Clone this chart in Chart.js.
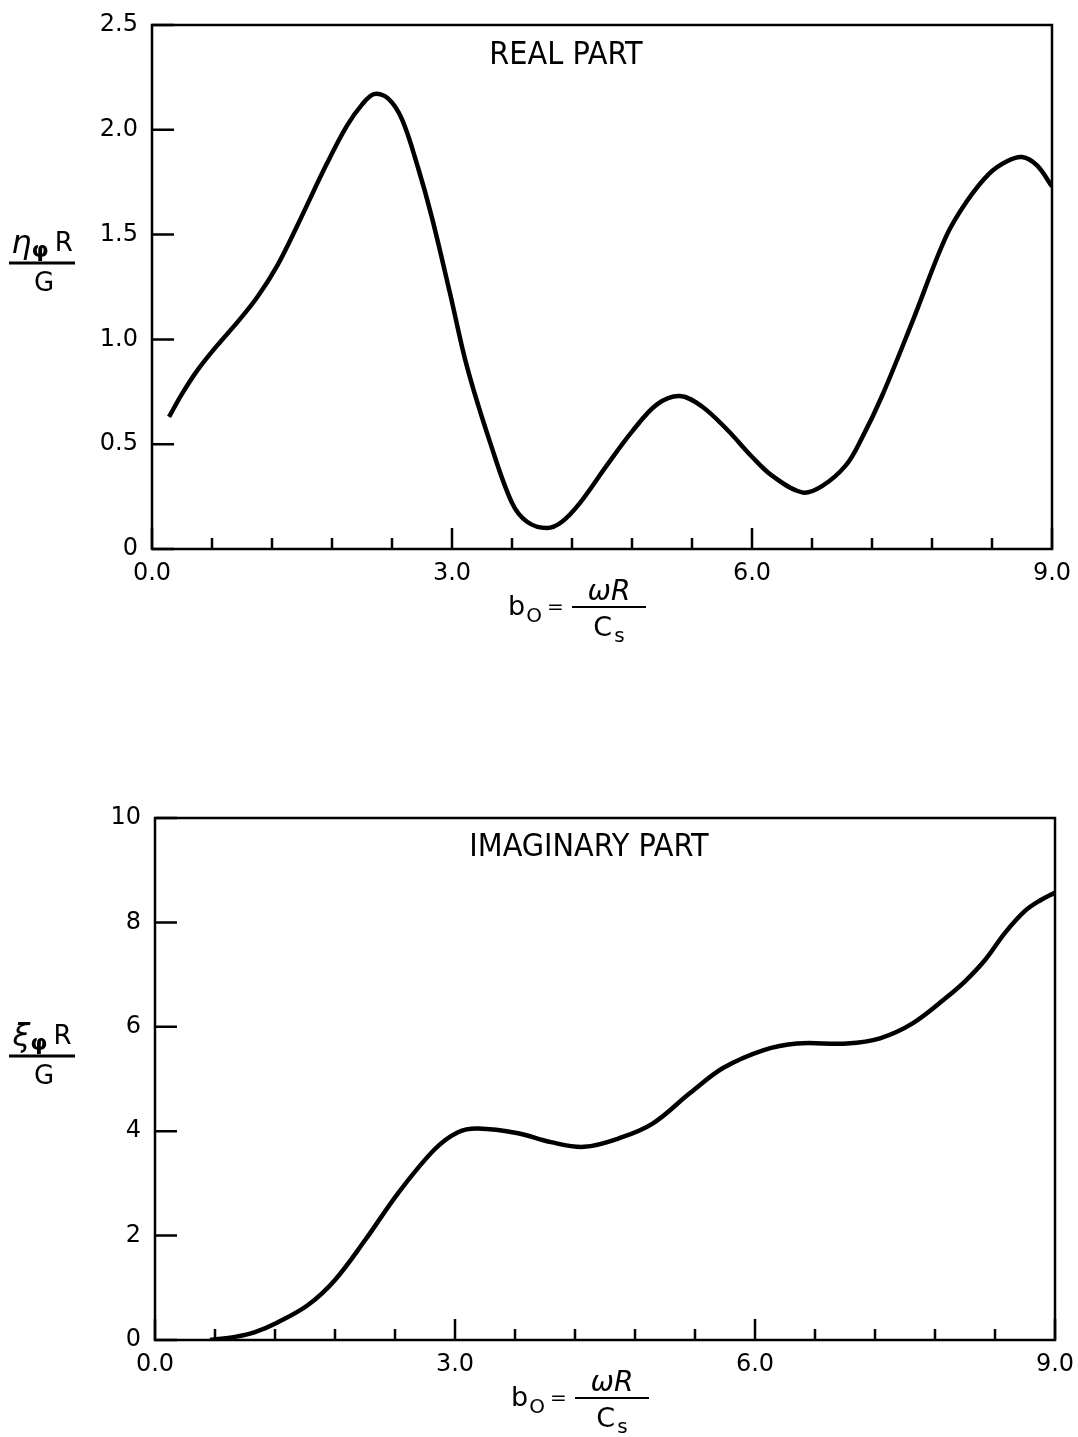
<!DOCTYPE html>
<html lang="en">
  <head>
    <meta charset="UTF-8" />
    <title>Real and Imaginary Part</title>
    <script src="https://cdn.jsdelivr.net/npm/chart.js"></script>
    <style>
      body {
        margin: 0;
        background: #fff;
      }
      .panel {
        position: absolute;
        left: 0;
        width: 1078px;
      }
      #topPanel {
        top: 0;
        height: 700px;
      }
      #botPanel {
        top: 700px;
        height: 737px;
      }
    </style>
  </head>
  <body>
    <div class="panel" id="topPanel"><canvas id="realChart"></canvas></div>
    <div class="panel" id="botPanel"><canvas id="imagChart"></canvas></div>

    <script>
      // values
      const realB = [0.17, 0.3, 0.45, 0.65, 0.85, 1.05, 1.25, 1.45, 1.75, 1.95, 2.1, 2.22, 2.36, 2.5, 2.66, 2.8, 2.98, 3.15, 3.38, 3.6, 3.75, 3.95, 4.1, 4.28, 4.55, 4.8, 5.05, 5.28, 5.5, 5.75, 6.0, 6.2, 6.5, 6.7, 6.94, 7.1, 7.3, 7.6, 7.94, 8.15, 8.37, 8.55, 8.7, 8.85, 9.0];
      const realVal = [0.63, 0.74, 0.85, 0.97, 1.08, 1.2, 1.35, 1.54, 1.84, 2.02, 2.12, 2.17, 2.15, 2.05, 1.82, 1.58, 1.22, 0.87, 0.51, 0.22, 0.13, 0.1, 0.13, 0.22, 0.4, 0.56, 0.69, 0.73, 0.68, 0.57, 0.44, 0.35, 0.27, 0.3, 0.4, 0.53, 0.73, 1.08, 1.49, 1.66, 1.79, 1.85, 1.87, 1.83, 1.73];

      const imagB = [0.55, 0.8, 1.0, 1.22, 1.53, 1.8, 2.1, 2.43, 2.79, 3.03, 3.23, 3.63, 3.96, 4.29, 4.65, 4.98, 5.35, 5.68, 6.08, 6.42, 6.92, 7.25, 7.58, 7.92, 8.1, 8.3, 8.5, 8.7, 8.85, 9.0];
      const imagVal = [0.0, 0.06, 0.15, 0.33, 0.67, 1.15, 1.91, 2.81, 3.64, 3.98, 4.05, 3.96, 3.79, 3.7, 3.87, 4.15, 4.73, 5.21, 5.55, 5.68, 5.68, 5.78, 6.07, 6.57, 6.87, 7.28, 7.8, 8.22, 8.42, 8.57];

      const xTicks = [0, 0.6, 1.2, 1.8, 2.4, 3.0, 3.6, 4.2, 4.8, 5.4, 6.0, 6.6, 7.2, 7.8, 8.4, 9.0];
      const xMajor = [0, 3, 6, 9];
      const realYTicks = [0, 0.5, 1.0, 1.5, 2.0, 2.5];
      const realYLabels = ['0', '0.5', '1.0', '1.5', '2.0', '2.5'];
      const imagYTicks = [0, 2, 4, 6, 8, 10];
      const imagYLabels = ['0', '2', '4', '6', '8', '10'];

      const tickFont = '"DejaVu Sans", sans-serif';
      const titleFont = '"Liberation Sans Narrow", "DejaVu Sans Condensed", "DejaVu Sans", sans-serif';

      function isMajor(v) {
        return xMajor.some((m) => Math.abs(m - v) < 1e-6);
      }

      // b0 = wR / Cs under the x axis
      function drawXTitle(ctx, cx, axisY) {
        ctx.fillStyle = '#000';
        ctx.textBaseline = 'alphabetic';
        ctx.textAlign = 'left';
        let x = cx - 104;
        ctx.font = '27px ' + tickFont;
        ctx.fillText('b', x, axisY + 66);
        x += ctx.measureText('b').width;
        ctx.font = '20px ' + tickFont;
        ctx.fillText('O', x + 1, axisY + 73);
        x += ctx.measureText('O').width + 6;
        ctx.font = '20px ' + tickFont;
        ctx.fillText('=', x, axisY + 64);
        // fraction
        const fx = cx - 40;
        const fw = 74;
        ctx.lineWidth = 2;
        ctx.beginPath();
        ctx.moveTo(fx, axisY + 58);
        ctx.lineTo(fx + fw, axisY + 58);
        ctx.stroke();
        ctx.font = 'italic 28px ' + tickFont;
        const num = 'ωR';
        ctx.fillText(num, fx + (fw - ctx.measureText(num).width) / 2, axisY + 51);
        ctx.font = '27px ' + tickFont;
        const cw = ctx.measureText('C').width;
        ctx.font = '20px ' + tickFont;
        const sw = ctx.measureText('s').width;
        const dx = fx + (fw - cw - sw - 2) / 2;
        ctx.font = '27px ' + tickFont;
        ctx.fillText('C', dx, axisY + 87);
        ctx.font = '20px ' + tickFont;
        ctx.fillText('s', dx + cw + 2, axisY + 93);
      }

      // y axis quantity written as a fraction to the left of the axis
      function drawYTitle(ctx, cx, barY, symbol) {
        ctx.fillStyle = '#000';
        ctx.textBaseline = 'alphabetic';
        ctx.textAlign = 'left';
        ctx.font = 'italic 32px ' + tickFont;
        const w1 = ctx.measureText(symbol).width;
        ctx.font = 'bold 22px ' + tickFont;
        const w2 = ctx.measureText('φ').width;
        ctx.font = '26px ' + tickFont;
        const w3 = ctx.measureText('R').width;
        const total = w1 + w2 + w3 + 6;
        let x = cx - total / 2;
        ctx.font = 'italic 32px ' + tickFont;
        ctx.fillText(symbol, x, barY - 10);
        x += w1;
        ctx.font = 'bold 22px ' + tickFont;
        ctx.fillText('φ', x, barY - 6);
        x += w2 + 6;
        ctx.font = '26px ' + tickFont;
        ctx.fillText('R', x, barY - 12);
        ctx.lineWidth = 3;
        ctx.beginPath();
        ctx.moveTo(cx - 33, barY);
        ctx.lineTo(cx + 33, barY);
        ctx.stroke();
        ctx.textAlign = 'center';
        ctx.fillText('G', cx + 2, barY + 28);
      }

      const framePlugin = {
        id: 'frame',
        afterDraw(chart, args, opts) {
          const ctx = chart.ctx;
          const area = chart.chartArea;
          const xs = chart.scales.x;
          const ys = chart.scales.y;
          ctx.save();
          ctx.strokeStyle = '#000';
          ctx.lineWidth = 2.5;
          ctx.strokeRect(area.left, area.top, area.right - area.left, area.bottom - area.top);
          // inward ticks
          ctx.beginPath();
          xs.ticks.forEach((t) => {
            const px = xs.getPixelForValue(t.value);
            const len = isMajor(t.value) ? 21 : 11;
            ctx.moveTo(px, area.bottom);
            ctx.lineTo(px, area.bottom - len);
          });
          ys.ticks.forEach((t) => {
            const py = ys.getPixelForValue(t.value);
            ctx.moveTo(area.left, py);
            ctx.lineTo(area.left + 22, py);
          });
          ctx.stroke();
          // panel title
          ctx.fillStyle = '#000';
          ctx.font = '32px ' + titleFont;
          ctx.textAlign = 'center';
          ctx.textBaseline = 'alphabetic';
          ctx.fillText(opts.title, area.left + opts.titleDx, area.top + opts.titleDy);
          drawYTitle(ctx, 42, area.top + 238, opts.symbol);
          drawXTitle(ctx, area.left + opts.xTitleDx, area.bottom);
          ctx.restore();
        },
      };

      function makeChart(id, xs, ys, yTicks, yLabels, yMax, dims, frame) {
        return new Chart(document.getElementById(id), {
          type: 'line',
          data: {
            datasets: [
              {
                data: xs.map((b, i) => ({ x: b, y: ys[i] })),
                borderColor: '#000',
                borderWidth: 4.5,
                pointRadius: 0,
                fill: false,
                tension: 0.35,
              },
            ],
          },
          options: {
            responsive: true,
            maintainAspectRatio: false,
            animation: false,
            layout: { padding: { left: 0, right: dims.right, top: dims.top, bottom: 0 } },
            plugins: {
              legend: { display: false },
              tooltip: { enabled: false },
              frame: frame,
            },
            scales: {
              x: {
                type: 'linear',
                min: 0,
                max: 9,
                grid: { display: false, drawTicks: false },
                border: { display: false },
                afterBuildTicks: (s) => {
                  s.ticks = xTicks.map((v) => ({ value: v }));
                },
                afterFit: (s) => {
                  s.height = dims.xHeight;
                  s.paddingLeft = 0;
                  s.paddingRight = 0;
                },
                ticks: {
                  autoSkip: false,
                  maxRotation: 0,
                  padding: 10,
                  color: '#000',
                  font: { family: tickFont, size: 24 },
                  callback: (v) => (isMajor(v) ? v.toFixed(1) : ''),
                },
              },
              y: {
                type: 'linear',
                min: 0,
                max: yMax,
                grid: { display: false, drawTicks: false },
                border: { display: false },
                afterBuildTicks: (s) => {
                  s.ticks = yTicks.map((v) => ({ value: v }));
                },
                afterFit: (s) => {
                  s.width = dims.left;
                  s.paddingTop = 0;
                  s.paddingBottom = 0;
                },
                ticks: {
                  padding: 14,
                  color: '#000',
                  font: { family: tickFont, size: 24 },
                  callback: (v) => yLabels[yTicks.indexOf(v)],
                },
              },
            },
          },
          plugins: [framePlugin],
        });
      }

      makeChart('realChart', realB, realVal, realYTicks, realYLabels, 2.5,
        { left: 152, right: 26, top: 25, xHeight: 151 },
        { title: 'REAL PART', titleDx: 414, titleDy: 39, symbol: 'η', xTitleDx: 460 });

      makeChart('imagChart', imagB, imagVal, imagYTicks, imagYLabels, 10,
        { left: 155, right: 23, top: 118, xHeight: 97 },
        { title: 'IMAGINARY PART', titleDx: 434, titleDy: 38, symbol: 'ξ', xTitleDx: 460 });
    </script>
  </body>
</html>
